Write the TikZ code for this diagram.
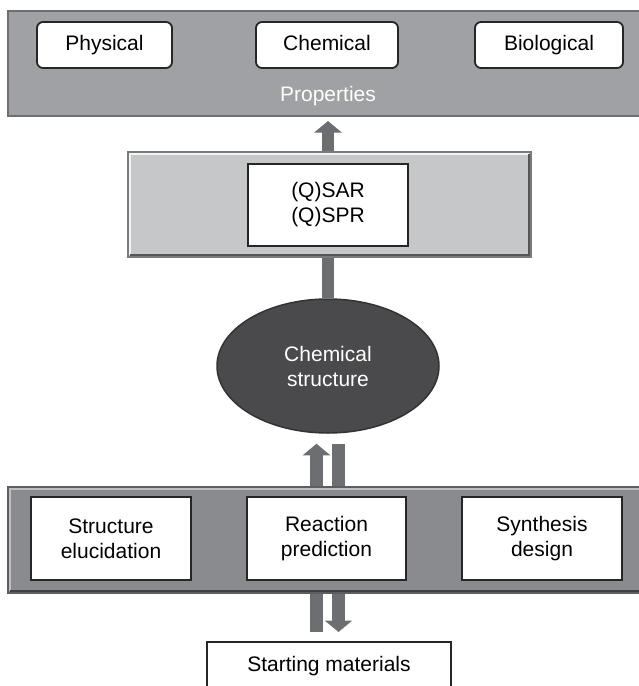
\documentclass[tikz,border=0pt]{standalone}
\usepackage{fontspec}
\setmainfont{Liberation Sans}
\usetikzlibrary{arrows.meta, fit, calc, shapes.geometric}
\definecolor{propgray}{HTML}{A0A1A4}
\definecolor{propline}{HTML}{6E6F72}
\definecolor{sargray}{HTML}{C6C7C9}
\definecolor{sarline}{HTML}{7A7B7E}
\definecolor{rxngray}{HTML}{8A8B8E}
\definecolor{rxnline}{HTML}{5C5D60}
\definecolor{chemgray}{HTML}{4A4A4C}
\definecolor{arrowgray}{HTML}{6D6E71}
\tikzset{>=latex}
\tikzset{every text node part/.style={align=center}}
\tikzset{
	band/.style={line width=2pt, inner sep=0pt},
	roundbox/.style={draw=black!85, fill=white, line width=1.8pt, rounded corners=6pt, inner sep=0pt, text height=15pt, text depth=4pt},
	plainbox/.style={draw=black!85, fill=white, line width=2.4pt, inner sep=0pt},
	blockarrow/.style={draw=arrowgray, line width=12.5pt, -{Triangle[length=11.5pt, width=27pt]}},
	blockbar/.style={draw=arrowgray, line width=12.5pt},
	hilite/.style={line width=1.5pt}
}

\begin{document}
\begin{tikzpicture}[x=1pt, y=-1pt, font=\fontsize{21}{25}\selectfont]
	\useasboundingbox (0,0) rectangle (639,686);
	\clip (0,0) rectangle (639,686);
	
	% Properties band
	\node[band, draw=propline, fill=propgray, fit={(8,11) (660,116)}] (propband) {};
	\node[roundbox, minimum width=135pt, minimum height=46pt] (phys) at (104.5,45) {Physical};
	\node[roundbox, minimum width=142pt, minimum height=46pt] (chemprop) at (327,45) {Chemical};
	\node[roundbox, minimum width=148pt, minimum height=46pt] (bio) at (549,45) {Biological};
	\node[text=white] (proplabel) at (328,96) {Properties};
	
	% (Q)SAR band
	\node[band, draw=sarline, fill=sargray, fit={(128,152) (531,257)}] (sarband) {};
	\draw[hilite, white!80!sargray] ([shift={(3pt,3pt)}]sarband.south west) -- ([shift={(3pt,-3pt)}]sarband.north west) -- ([shift={(-3pt,-3pt)}]sarband.north east);
	\draw[hilite, sarline!70!black] ([shift={(3pt,3pt)}]sarband.south west) -- ([shift={(-3pt,3pt)}]sarband.south east) -- ([shift={(-3pt,-3pt)}]sarband.north east);
	\node[plainbox, minimum width=160pt, minimum height=82pt] (sar) at (328,205) {(Q)SAR\\(Q)SPR};
	
	% Chemical structure
	\node[ellipse, draw=black!80, fill=chemgray, line width=1.5pt, minimum width=222pt, minimum height=134pt, text=white] (chem) at (328,366) {Chemical\\structure};
	
	% Reaction band
	\node[band, draw=rxnline, fill=rxngray, fit={(8,487) (660,593)}] (rxnband) {};
	\draw[hilite, white!45!rxngray] ([shift={(3pt,3pt)}]rxnband.south west) -- ([shift={(3pt,-3pt)}]rxnband.north west) -- ([shift={(-3pt,-3pt)}]rxnband.north east);
	\draw[hilite, rxnline!70!black] ([shift={(3pt,3pt)}]rxnband.south west) -- ([shift={(-3pt,3pt)}]rxnband.south east);
	\node[plainbox, minimum width=160pt, minimum height=83pt] (struct) at (111,538.5) {Structure\\elucidation};
	\node[plainbox, minimum width=159pt, minimum height=83pt] (rxn) at (326.5,538.5) {Reaction\\prediction};
	\node[plainbox, minimum width=160pt, minimum height=83pt] (synth) at (542,538.5) {Synthesis\\design};
	
	% Starting materials
	\node[plainbox, line width=2pt, minimum width=244pt, minimum height=48pt, text height=15pt, text depth=4pt, anchor=north] (start) at (329,641) {Starting materials};
	
	% Arrows
	\draw[blockarrow] (sarband.north -| sar.north) -- ([yshift=-4pt]propband.south -| sar.north);
	\draw[blockbar] (sarband.south -| sar.south) -- (chem.north);
	\draw[blockarrow] ($(rxnband.north -| rxn.north)+(-10,0)$) -- ($(rxn.north |- chem.south)+(-10,10)$);
	\draw[blockbar] ($(rxnband.north -| rxn.north)+(12,0)$) -- ($(rxn.north |- chem.south)+(12,10)$);
	\draw[blockbar] ($(rxnband.south -| rxn.south)+(-10,0)$) -- ($(rxn.south |- start.north)+(-10,-9)$);
	\draw[blockarrow] ($(rxnband.south -| rxn.south)+(12,0)$) -- ($(rxn.south |- start.north)+(12,-9)$);
\end{tikzpicture}
\end{document}
